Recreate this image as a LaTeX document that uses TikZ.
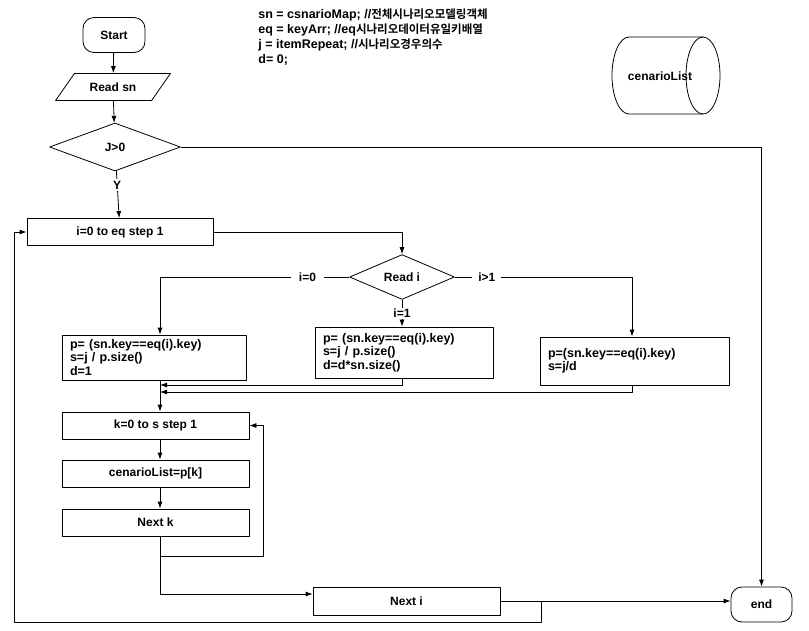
\documentclass[tikz,border=0pt]{standalone}
\usepackage{fontspec}
\setmainfont{Liberation Sans}
\newfontfamily\kr{Noto Sans CJK KR}[BoldFont=* Bold,Scale=0.92]
\usetikzlibrary{shapes.geometric,arrows.meta}
\begin{document}
\begin{tikzpicture}[x=1pt,y=-1pt,font=\fontsize{12}{14}\selectfont\bfseries,line width=0.8pt,line join=round,>={Latex[length=7pt,width=5pt]},
  term/.style={draw,rectangle,rounded corners=11pt,minimum width=62pt,minimum height=35pt},
  io/.style={draw,trapezium,trapezium left angle=50,trapezium right angle=130,trapezium stretches=true,minimum width=115pt,minimum height=27pt},
  cond/.style={draw,diamond,inner sep=0pt},
  proc/.style={draw,rectangle,minimum width=187pt,minimum height=27pt},
  blk/.style={draw,rectangle,align=left,inner xsep=8pt,font=\fontsize{12.5}{13.5}\selectfont\bfseries},
  lbl/.style={fill=white,inner sep=2pt}]
\useasboundingbox (0,0) rectangle (809,630);
% nodes
\node[term] (start) at (114,35) {Start};
\node[io] (readsn) at (113,87) {Read sn};
\node[cond,minimum width=131pt,minimum height=48pt] (jcond) at (115,147) {J>0};
\node[proc,minimum width=186pt] (iloop) at (120,232) {i=0 to eq step 1};
\node[cond,minimum width=105pt,minimum height=42pt] (readi) at (402,277) {Read i};
\node[blk,minimum width=184pt,minimum height=45pt,text width=168pt] (case0) at (154,357.5)
  {p= (sn.key==eq(i).key)\\s=j / p.size()\\d=1};
\node[blk,minimum width=178pt,minimum height=51pt,text width=162pt] (case1) at (404,352.5)
  {p= (sn.key==eq(i).key)\\s=j / p.size()\\d=d*sn.size()};
\node[blk,minimum width=189pt,minimum height=48pt,text width=173pt] (case2) at (634.5,361)
  {p=(sn.key==eq(i).key)\\s=j/d};
\node[proc] (kloop) at (155.5,425.5) {k=0 to s step 1};
\node[proc] (clist) at (155.5,473.5) {cenarioList=p[k]};
\node[proc] (nextk) at (155.5,522.5) {Next k};
\node[proc,minimum height=28pt] (nexti) at (406.5,601) {Next i};
\node[term,minimum width=61pt] (end) at (761.5,604.5) {end};
% stored data
\draw (703,37) -- (629,37) arc[start angle=-90,end angle=-270,x radius=17,y radius=38.5] -- (703,114);
\draw (703,75.5) ellipse[x radius=17,y radius=38.5];
\node (store) at (660,76) {cenarioList};
\node[anchor=north west,align=left,inner sep=0pt,font=\fontsize{12.5}{15}\selectfont\bfseries] (vars) at (258,8)
  {sn = csnarioMap; //{\kr 전체시나리오모델링객체}\\
   eq = keyArr; //eq{\kr 시나리오데이터유일키배열}\\
   j = itemRepeat; //{\kr 시나리오경우의수}\\
   d= 0;};
\coordinate (m1) at (160,385);
\coordinate (m2) at (160,392);
\coordinate (kb) at (160,556);
\coordinate (kr) at (263,556);
\coordinate (ib) at (541,601);
\coordinate (lc) at (14,622);
% connectors
\draw[->] (start) -- (readsn);
\draw[->] (readsn) -- (jcond);
\draw[->] (jcond) -- node[lbl,pos=0.3]{Y} (iloop);
\draw[->] (jcond.east) -- (jcond.east -| end) -- (end);
\draw[->] (iloop.east) -| (readi.north);
\draw[->] (readi.west) -| node[lbl,pos=0.11,inner xsep=8pt]{i=0} (case0.north -| m1);
\draw[->] (readi.south) -- node[lbl,inner sep=1pt]{i=1} (case1.north -| readi);
\draw[->] (readi.east) -| node[lbl,pos=0.09,inner xsep=6pt]{i>1} (case2.north -| 632,0);
\draw[->] (case1.south -| readi) |- (m1);
\draw[->] (case2.south -| 632,0) |- (m2);
\draw[->] (case0.south -| m1) -- (kloop.north -| m1);
\draw[->] (kloop.south -| m1) -- (clist.north -| m1);
\draw[->] (clist.south -| m1) -- (nextk.north -| m1);
\draw[->] (nextk.south -| kb) -- (kb) -- (kr) |- (kloop.east);
\draw[->] (kb) |- ([yshift=7pt]nexti.west);
\draw[->] (nexti.east) -- (nexti.east -| end.west);
\draw[->] (ib) |- (lc) |- (iloop.west);
\end{tikzpicture}
\end{document}
